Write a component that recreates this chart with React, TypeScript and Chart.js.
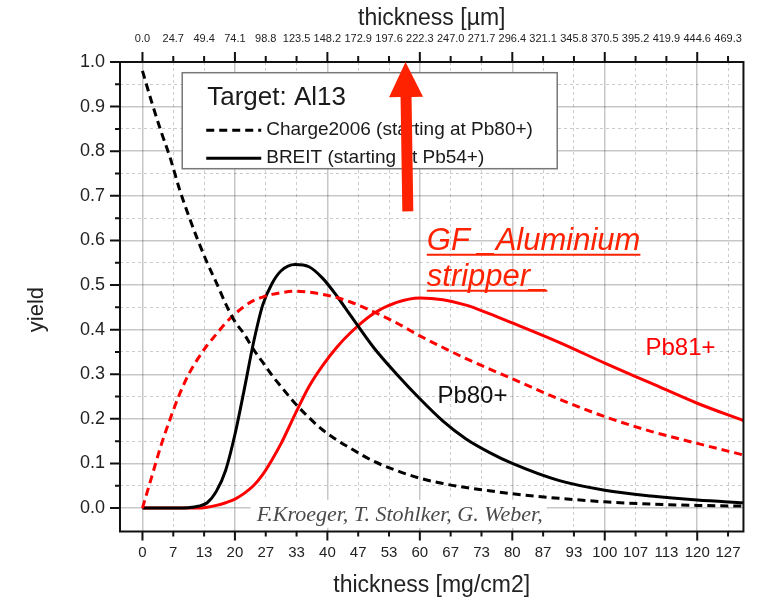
import React, { useEffect, useRef } from 'react';
import { Chart, registerables } from 'chart.js';

Chart.register(...registerables);

// ---------- data ----------
const THICKNESS = [0, 2, 4, 6, 8, 10, 12, 14, 16, 18, 20, 22, 24, 26, 28, 30, 33, 36, 39, 42, 45, 50, 55, 60, 65, 70, 75, 80, 90, 100, 110, 120, 130];

const CHARGE_PB80 = [0.98, 0.91, 0.845, 0.785, 0.715, 0.655, 0.6, 0.55, 0.505, 0.458, 0.418, 0.39, 0.356, 0.327, 0.298, 0.272, 0.235, 0.203, 0.175, 0.153, 0.134, 0.105, 0.084, 0.067, 0.055, 0.046, 0.039, 0.032, 0.022, 0.014, 0.009, 0.006, 0.0045];
const CHARGE_PB81 = [0, 0.07, 0.14, 0.2, 0.255, 0.3, 0.335, 0.365, 0.39, 0.415, 0.435, 0.452, 0.465, 0.473, 0.479, 0.483, 0.486, 0.484, 0.479, 0.472, 0.462, 0.44, 0.415, 0.386, 0.36, 0.335, 0.312, 0.29, 0.245, 0.205, 0.172, 0.145, 0.119];
const BREIT_PB80 = [0, 0, 0, 0, 0, 0.001, 0.004, 0.012, 0.038, 0.085, 0.165, 0.265, 0.37, 0.455, 0.503, 0.532, 0.546, 0.541, 0.515, 0.476, 0.432, 0.36, 0.3, 0.245, 0.195, 0.155, 0.125, 0.1, 0.062, 0.04, 0.027, 0.018, 0.012];
const BREIT_PB81 = [0, 0, 0, 0, 0, 0, 0, 0.002, 0.006, 0.012, 0.02, 0.033, 0.05, 0.075, 0.108, 0.145, 0.21, 0.272, 0.32, 0.36, 0.393, 0.436, 0.461, 0.471, 0.467, 0.455, 0.436, 0.415, 0.372, 0.325, 0.28, 0.235, 0.196];

const BOTTOM_TICK_LABELS = ['0', '7', '13', '20', '27', '33', '40', '47', '53', '60', '67', '73', '80', '87', '93', '100', '107', '113', '120', '127'];
const TOP_TICK_LABELS = ['0.0', '24.7', '49.4', '74.1', '98.8', '123.5', '148.2', '172.9', '197.6', '222.3', '247.0', '271.7', '296.4', '321.1', '345.8', '370.5', '395.2', '419.9', '444.6', '469.3'];
const Y_TICK_LABELS = ['0.0', '0.1', '0.2', '0.3', '0.4', '0.5', '0.6', '0.7', '0.8', '0.9', '1.0'];

const X_STEP = 20 / 3; // mg/cm2 between ticks
const Y_STEP = 0.05;   // minor y tick step

const LEGEND_TITLE = 'Target: Al13';
const LEGEND_ENTRIES = [
  { label: 'Charge2006 (starting at Pb80+)', dataset: 0 },
  { label: 'BREIT (starting at Pb54+)', dataset: 2 },
];
const AUTHOR_TEXT = 'F.Kroeger, T. Stohlker, G. Weber,';
const NOTE_LINES = ['GF _Aluminium', 'stripper_'];

// annotation anchors in data coordinates [thickness mg/cm2, yield]
const LEGEND_ANCHOR = [8.6, 0.976];
const ARROW_TAIL = [57.4, 0.665];
const ARROW_TIP = [56.9, 1.0];
const NOTE_ANCHOR = [61.5, 0.578];
const PB81_LABEL = [108.8, 0.344];
const PB80_LABEL = [63.8, 0.236];
const AUTHOR_ANCHOR = [24.7, -0.0286];

const SANS = "'Liberation Sans', Arial, sans-serif";
const RED = '#ff0000';
const ARROW_RED = '#ff2200';

const pts = (ys: number[]) => THICKNESS.map((x, i) => ({ x, y: ys[i] }));

const decorPlugin = {
  id: 'decor',
  beforeDatasetsDraw(chart: any) {
    const { ctx } = chart;
    const xs = chart.scales.x, ys = chart.scales.y;
    const px = xs.getPixelForValue(AUTHOR_ANCHOR[0]);
    const py = ys.getPixelForValue(AUTHOR_ANCHOR[1]);
    ctx.save();
    ctx.font = "italic 22px 'Liberation Serif', serif";
    const w = ctx.measureText(AUTHOR_TEXT).width;
    ctx.fillStyle = '#ffffff';
    ctx.fillRect(px - 6, py - 21, w + 10, 28);
    ctx.fillStyle = '#4a4a4a';
    ctx.textBaseline = 'alphabetic';
    ctx.textAlign = 'left';
    ctx.fillText(AUTHOR_TEXT, px, py);
    ctx.restore();
  },
  afterDraw(chart: any) {
    const { ctx, chartArea } = chart;
    const xs = chart.scales.x, ys = chart.scales.y;
    const { left, right, top, bottom } = chartArea;
    ctx.save();

    // ticks
    ctx.strokeStyle = '#111';
    ctx.lineWidth = 2;
    ctx.beginPath();
    for (let i = 0; i * Y_STEP <= 1.0001; i++) {
      const p = ys.getPixelForValue(i * Y_STEP);
      const len = i % 2 === 0 ? 10 : 5;
      ctx.moveTo(left, p);
      ctx.lineTo(left - len, p);
    }
    BOTTOM_TICK_LABELS.forEach((_, k) => {
      const p = xs.getPixelForValue(k * X_STEP);
      const len = k % 3 === 0 ? 9 : 5;
      ctx.moveTo(p, bottom);
      ctx.lineTo(p, bottom + len);
      ctx.moveTo(p, top);
      ctx.lineTo(p, top - (len + 1));
    });
    ctx.stroke();

    // frame
    ctx.strokeStyle = '#111';
    ctx.lineWidth = 2;
    ctx.strokeRect(left, top, right - left, bottom - top);

    // y title
    ctx.save();
    ctx.translate(37, ys.getPixelForValue(0.445));
    ctx.rotate(-Math.PI / 2);
    ctx.font = `22px ${SANS}`;
    ctx.fillStyle = '#222';
    ctx.textAlign = 'center';
    ctx.textBaseline = 'middle';
    ctx.fillText('yield', 0, 0);
    ctx.restore();

    // legend box
    const lx = xs.getPixelForValue(LEGEND_ANCHOR[0]);
    const ly = ys.getPixelForValue(LEGEND_ANCHOR[1]);
    ctx.fillStyle = '#fff';
    ctx.fillRect(lx, ly, 375, 96);
    ctx.strokeStyle = '#777';
    ctx.lineWidth = 1.5;
    ctx.strokeRect(lx, ly, 375, 96);
    ctx.fillStyle = '#1a1a1a';
    ctx.textAlign = 'left';
    ctx.textBaseline = 'alphabetic';
    ctx.font = `26px ${SANS}`;
    ctx.fillText(LEGEND_TITLE, lx + 25, ly + 32);
    LEGEND_ENTRIES.forEach((e, i) => {
      const ds = chart.data.datasets[e.dataset];
      const yy = ly + 57.5 + i * 28;
      ctx.save();
      ctx.strokeStyle = ds.borderColor;
      ctx.lineWidth = 3;
      ctx.setLineDash(ds.borderDash || []);
      ctx.beginPath();
      ctx.moveTo(lx + 24, yy);
      ctx.lineTo(lx + 79, yy);
      ctx.stroke();
      ctx.restore();
      ctx.font = `19px ${SANS}`;
      ctx.fillStyle = '#1a1a1a';
      ctx.fillText(e.label, lx + 84, yy + 5);
    });

    // arrow
    const tx = xs.getPixelForValue(ARROW_TAIL[0]), ty = ys.getPixelForValue(ARROW_TAIL[1]);
    const hx = xs.getPixelForValue(ARROW_TIP[0]), hy = ys.getPixelForValue(ARROW_TIP[1]);
    const L = Math.hypot(hx - tx, hy - ty);
    const dx = (hx - tx) / L, dy = (hy - ty) / L;
    const nx = -dy, ny = dx;
    const headLen = 35, headW = 34, shaftW = 11;
    const bx = hx - dx * headLen, by = hy - dy * headLen;
    ctx.fillStyle = ARROW_RED;
    ctx.beginPath();
    ctx.moveTo(tx + nx * shaftW / 2, ty + ny * shaftW / 2);
    ctx.lineTo(bx + nx * shaftW / 2, by + ny * shaftW / 2);
    ctx.lineTo(bx + nx * headW / 2, by + ny * headW / 2);
    ctx.lineTo(hx, hy);
    ctx.lineTo(bx - nx * headW / 2, by - ny * headW / 2);
    ctx.lineTo(bx - nx * shaftW / 2, by - ny * shaftW / 2);
    ctx.lineTo(tx - nx * shaftW / 2, ty - ny * shaftW / 2);
    ctx.closePath();
    ctx.fill();

    // note text (italic, underlined)
    const nxp = xs.getPixelForValue(NOTE_ANCHOR[0]);
    const nyp = ys.getPixelForValue(NOTE_ANCHOR[1]);
    ctx.font = `italic 31px ${SANS}`;
    ctx.fillStyle = ARROW_RED;
    ctx.strokeStyle = ARROW_RED;
    ctx.lineWidth = 2.2;
    NOTE_LINES.forEach((t, i) => {
      const by2 = nyp + i * 36;
      ctx.fillText(t, nxp, by2);
      const w = ctx.measureText(t).width;
      ctx.beginPath();
      ctx.moveTo(nxp, by2 + 4.5);
      ctx.lineTo(nxp + w, by2 + 4.5);
      ctx.stroke();
    });

    // series labels
    ctx.font = `24px ${SANS}`;
    ctx.fillStyle = RED;
    ctx.fillText('Pb81+', xs.getPixelForValue(PB81_LABEL[0]), ys.getPixelForValue(PB81_LABEL[1]));
    ctx.fillStyle = '#111';
    ctx.fillText('Pb80+', xs.getPixelForValue(PB80_LABEL[0]), ys.getPixelForValue(PB80_LABEL[1]));

    ctx.restore();
  },
};

export default function App() {
  const ref = useRef<HTMLCanvasElement>(null);
  useEffect(() => {
    const isMajorX = (ctx: any) => ctx.tick && Math.round(ctx.tick.value / X_STEP) % 3 === 0;
    const isMajorY = (ctx: any) => ctx.tick && Math.round(ctx.tick.value / Y_STEP) % 2 === 0;
    const chart = new Chart(ref.current as HTMLCanvasElement, {
      type: 'line',
      data: {
        datasets: [
          { label: 'Charge2006 Pb80+', data: pts(CHARGE_PB80), borderColor: '#000000', borderDash: [8, 5], borderWidth: 3, pointRadius: 0, cubicInterpolationMode: 'monotone', fill: false },
          { label: 'Charge2006 Pb81+', data: pts(CHARGE_PB81), borderColor: RED, borderDash: [8, 5], borderWidth: 3, pointRadius: 0, cubicInterpolationMode: 'monotone', fill: false },
          { label: 'BREIT Pb80+', data: pts(BREIT_PB80), borderColor: '#000000', borderWidth: 3, pointRadius: 0, cubicInterpolationMode: 'monotone', fill: false },
          { label: 'BREIT Pb81+', data: pts(BREIT_PB81), borderColor: RED, borderWidth: 3, pointRadius: 0, cubicInterpolationMode: 'monotone', fill: false },
        ] as any,
      },
      options: {
        animation: false,
        responsive: false,
        layout: { padding: { left: 0, right: 8, top: 0, bottom: 0 } },
        plugins: { legend: { display: false }, tooltip: { enabled: false } },
        scales: {
          x: {
            type: 'linear',
            position: 'bottom',
            min: -4.86,
            max: 130,
            afterBuildTicks: (s: any) => { s.ticks = BOTTOM_TICK_LABELS.map((_, k) => ({ value: k * X_STEP })); },
            afterFit: (s: any) => { s.height = 69.5; },
            ticks: {
              autoSkip: false, maxRotation: 0, minRotation: 0, padding: 12.5,
              color: '#222', font: { family: SANS, size: 15 },
              callback: (_v: any, i: number) => BOTTOM_TICK_LABELS[i],
            },
            grid: {
              drawTicks: false,
              color: (c: any) => (isMajorX(c) ? 'rgba(0,0,0,0.22)' : 'rgba(0,0,0,0.2)'),
              lineWidth: (c: any) => (isMajorX(c) ? 1.5 : 1),
            },
            border: { display: false, dash: (c: any) => (c.tick && !isMajorX(c) ? [3, 3] : []) },
            title: { display: true, text: 'thickness [mg/cm2]', color: '#222', font: { family: SANS, size: 23 }, padding: { top: 0, bottom: 2 } },
          },
          xTop: {
            type: 'linear',
            position: 'top',
            min: -4.86,
            max: 130,
            afterBuildTicks: (s: any) => { s.ticks = TOP_TICK_LABELS.map((_, k) => ({ value: k * X_STEP })); },
            afterFit: (s: any) => { s.height = 62; },
            ticks: {
              autoSkip: false, maxRotation: 0, minRotation: 0, padding: 16,
              color: '#222', font: { family: SANS, size: 11 },
              callback: (_v: any, i: number) => TOP_TICK_LABELS[i],
            },
            grid: { display: false, drawTicks: false },
            border: { display: false },
            title: { display: true, text: 'thickness [µm]', color: '#222', font: { family: SANS, size: 23 }, padding: { top: 4.5, bottom: 0 } },
          },
          y: {
            type: 'linear',
            position: 'left',
            min: -0.0525,
            max: 1.0,
            afterBuildTicks: (s: any) => {
              const t: any[] = [];
              for (let i = 0; i <= 20; i++) t.push({ value: i * Y_STEP });
              s.ticks = t;
            },
            afterFit: (s: any) => { s.width = 120; },
            ticks: {
              autoSkip: false, padding: 15,
              color: '#222', font: { family: SANS, size: 18 },
              callback: (_v: any, i: number) => (i % 2 === 0 ? Y_TICK_LABELS[i / 2] : ''),
            },
            grid: {
              drawTicks: false,
              color: (c: any) => (isMajorY(c) ? 'rgba(0,0,0,0.22)' : 'rgba(0,0,0,0.2)'),
              lineWidth: (c: any) => (isMajorY(c) ? 1.5 : 1),
            },
            border: { display: false, dash: (c: any) => (c.tick && !isMajorY(c) ? [3, 3] : []) },
          },
        },
      } as any,
      plugins: [decorPlugin],
    });
    return () => chart.destroy();
  }, []);
  return (
    <div style={{ position: 'absolute', left: 0, top: 0, width: 758, height: 601, background: '#fff' }}>
      <canvas ref={ref} width={758} height={601} style={{ display: 'block', width: 758, height: 601 }} />
    </div>
  );
}
